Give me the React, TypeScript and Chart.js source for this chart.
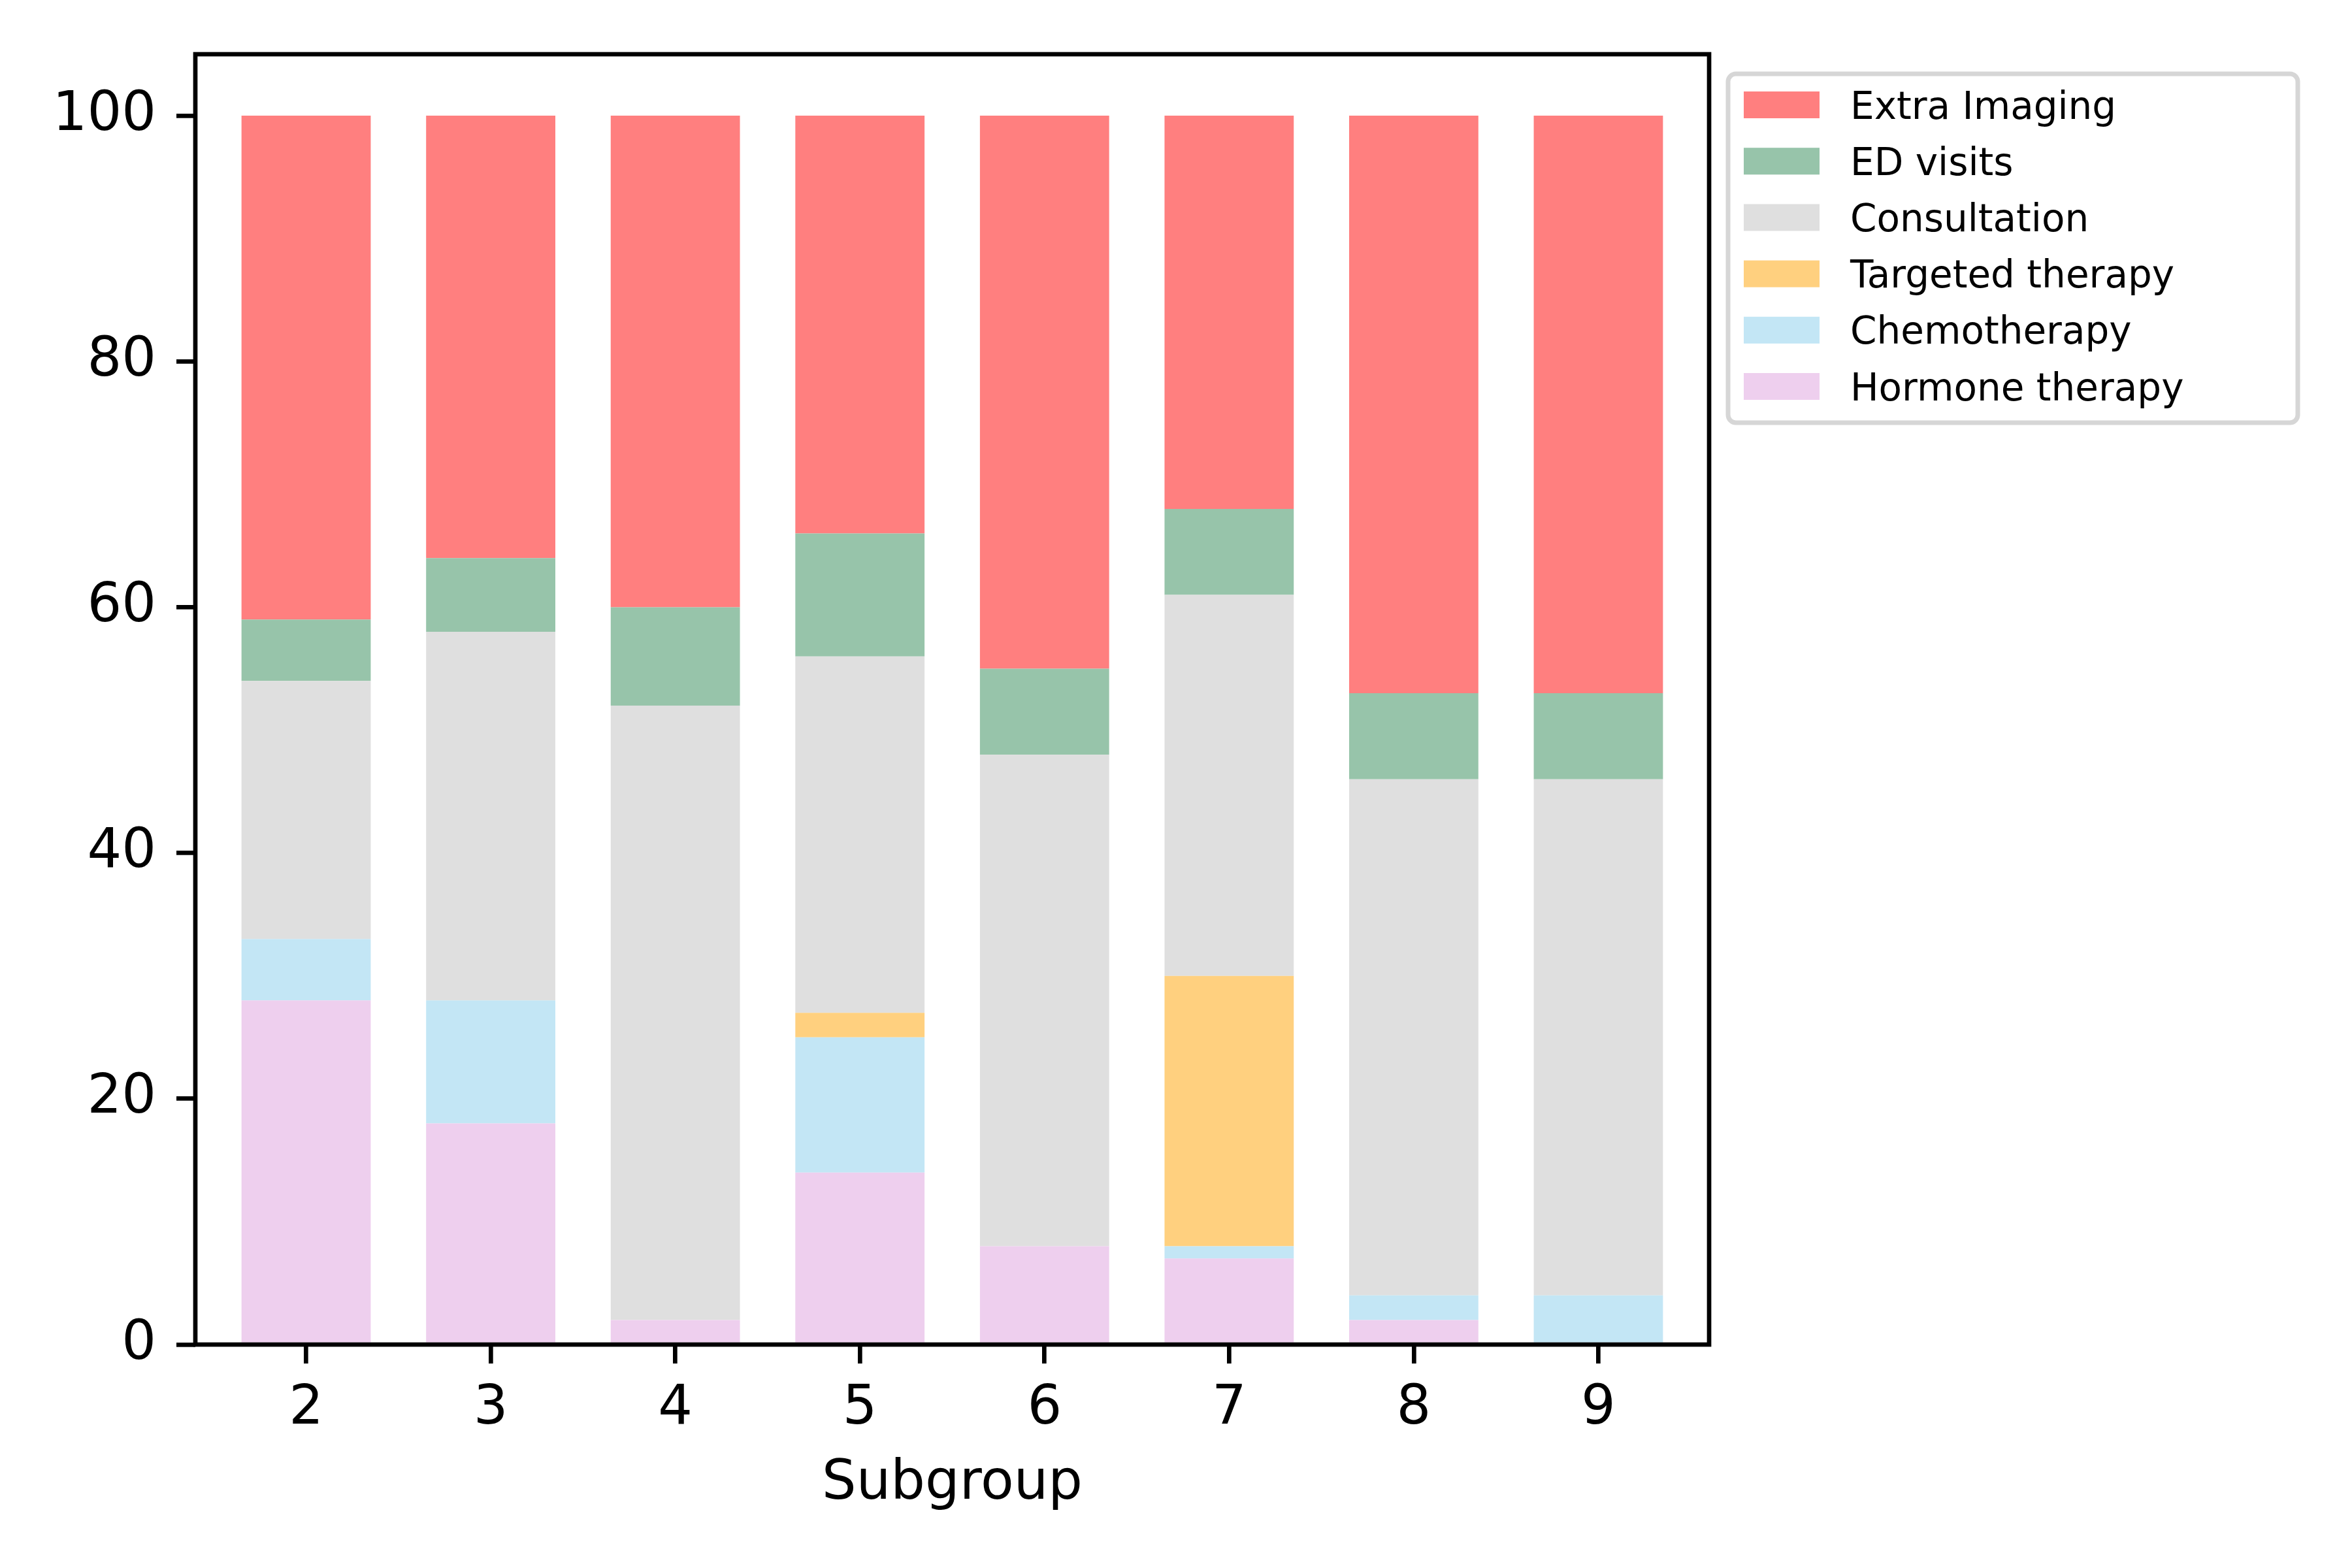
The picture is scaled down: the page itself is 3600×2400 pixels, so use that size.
import React, { useEffect, useRef } from "react";
import { Chart, registerables } from "chart.js";

Chart.register(...registerables);

// subgroups on the x axis
const subgroups = [2, 3, 4, 5, 6, 7, 8, 9];

// percentages per subgroup, bottom of the stack first
const hormoneTherapy = [28, 18, 2, 14, 8, 7, 2, 0];
const chemotherapy = [5, 10, 0, 11, 0, 1, 2, 4];
const targetedTherapy = [0, 0, 0, 2, 0, 22, 0, 0];
const consultation = [21, 30, 50, 29, 40, 31, 42, 42];
const edVisits = [5, 6, 8, 10, 7, 7, 7, 7];
const extraImaging = [41, 36, 40, 34, 45, 32, 47, 47];

const yTicks = [0, 20, 40, 60, 80, 100];

const FONT = "'DejaVu Sans', 'Liberation Sans', sans-serif";

// frame around the plot area, drawn over the bars like matplotlib spines
const framePlugin = {
  id: "frame",
  afterDatasetsDraw(chart: any) {
    const { ctx, chartArea } = chart;
    ctx.save();
    ctx.strokeStyle = "#000";
    ctx.lineWidth = 6.7;
    ctx.strokeRect(
      chartArea.left,
      chartArea.top,
      chartArea.right - chartArea.left,
      chartArea.bottom - chartArea.top
    );
    ctx.restore();
  },
};

// matplotlib style legend in the upper right, outside the axes
const legendPlugin = {
  id: "mplLegend",
  afterDraw(chart: any) {
    const { ctx } = chart;
    const sets = [...chart.data.datasets].reverse();
    const boxX = 2645;
    const boxY = 113;
    const boxW = 872;
    const boxH = 534;
    const r = 12;
    ctx.save();
    ctx.beginPath();
    ctx.moveTo(boxX + r, boxY);
    ctx.lineTo(boxX + boxW - r, boxY);
    ctx.arcTo(boxX + boxW, boxY, boxX + boxW, boxY + r, r);
    ctx.lineTo(boxX + boxW, boxY + boxH - r);
    ctx.arcTo(boxX + boxW, boxY + boxH, boxX + boxW - r, boxY + boxH, r);
    ctx.lineTo(boxX + r, boxY + boxH);
    ctx.arcTo(boxX, boxY + boxH, boxX, boxY + boxH - r, r);
    ctx.lineTo(boxX, boxY + r);
    ctx.arcTo(boxX, boxY, boxX + r, boxY, r);
    ctx.closePath();
    ctx.fillStyle = "#fff";
    ctx.fill();
    ctx.strokeStyle = "#d6d6d6";
    ctx.lineWidth = 7;
    ctx.stroke();

    ctx.font = `58px ${FONT}`;
    ctx.textAlign = "left";
    ctx.textBaseline = "alphabetic";
    sets.forEach((ds: any, i: number) => {
      const cy = 160.5 + i * 86.2;
      ctx.fillStyle = ds.backgroundColor;
      ctx.fillRect(2669, cy - 20.5, 116, 41);
      ctx.fillStyle = "#000";
      ctx.fillText(ds.label, 2832, cy + 21);
    });
    ctx.restore();
  },
};

const App: React.FC = () => {
  const chartRef = useRef<HTMLCanvasElement | null>(null);
  const chartInstance = useRef<Chart | null>(null);

  useEffect(() => {
    if (!chartRef.current) return;
    if (chartInstance.current) chartInstance.current.destroy();
    const ctx = chartRef.current.getContext("2d");
    if (!ctx) return;

    chartInstance.current = new Chart(ctx, {
      type: "bar",
      data: {
        labels: subgroups,
        datasets: [
          { label: "Hormone therapy", data: hormoneTherapy, backgroundColor: "#eecfee" },
          { label: "Chemotherapy", data: chemotherapy, backgroundColor: "#c3e6f5" },
          { label: "Targeted therapy", data: targetedTherapy, backgroundColor: "#ffd07f" },
          { label: "Consultation", data: consultation, backgroundColor: "#dfdfdf" },
          { label: "ED visits", data: edVisits, backgroundColor: "#97c4aa" },
          { label: "Extra Imaging", data: extraImaging, backgroundColor: "#ff7f7f" },
        ],
      },
      options: {
        responsive: false,
        animation: false,
        devicePixelRatio: 1,
        layout: { padding: { left: 0, top: 83, right: 984, bottom: 0 } },
        datasets: {
          bar: { categoryPercentage: 0.7, barPercentage: 1, borderWidth: 0 },
        },
        plugins: {
          legend: { display: false },
          title: { display: false },
          tooltip: { enabled: false },
        },
        scales: {
          x: {
            type: "linear",
            stacked: true,
            offset: false,
            min: 1.4,
            max: 9.6,
            grid: {
              display: true,
              offset: false,
              drawOnChartArea: false,
              drawTicks: true,
              tickLength: 29,
              lineWidth: 6.7,
              color: "#000",
            },
            border: { display: false },
            ticks: {
              color: "#000",
              font: { family: FONT, size: 83 },
              padding: 21,
              maxRotation: 0,
            },
            title: {
              display: true,
              text: "Subgroup",
              color: "#000",
              font: { family: FONT, size: 83 },
              padding: { top: 0, bottom: 78 },
            },
            afterBuildTicks: (scale: any) => {
              scale.ticks = subgroups.map((v) => ({ value: v }));
            },
            afterFit: (scale: any) => {
              scale.height = 342;
            },
          },
          y: {
            stacked: true,
            min: 0,
            max: 105,
            grid: {
              display: true,
              drawOnChartArea: false,
              drawTicks: true,
              tickLength: 29,
              lineWidth: 6.7,
              color: "#000",
            },
            border: { display: false },
            ticks: {
              color: "#000",
              font: { family: FONT, size: 83 },
              padding: 31,
            },
            afterBuildTicks: (scale: any) => {
              scale.ticks = yTicks.map((v) => ({ value: v }));
            },
            afterFit: (scale: any) => {
              scale.width = 299;
            },
          },
        },
      },
      plugins: [framePlugin, legendPlugin],
    } as any);

    return () => {
      if (chartInstance.current) {
        chartInstance.current.destroy();
        chartInstance.current = null;
      }
    };
  }, []);

  return (
    <div
      style={{
        position: "absolute",
        left: 0,
        top: 0,
        width: 3600,
        height: 2400,
        background: "#fff",
      }}
    >
      <canvas
        ref={chartRef}
        width={3600}
        height={2400}
        style={{ width: "3600px", height: "2400px", display: "block" }}
      />
    </div>
  );
};

export default App;
